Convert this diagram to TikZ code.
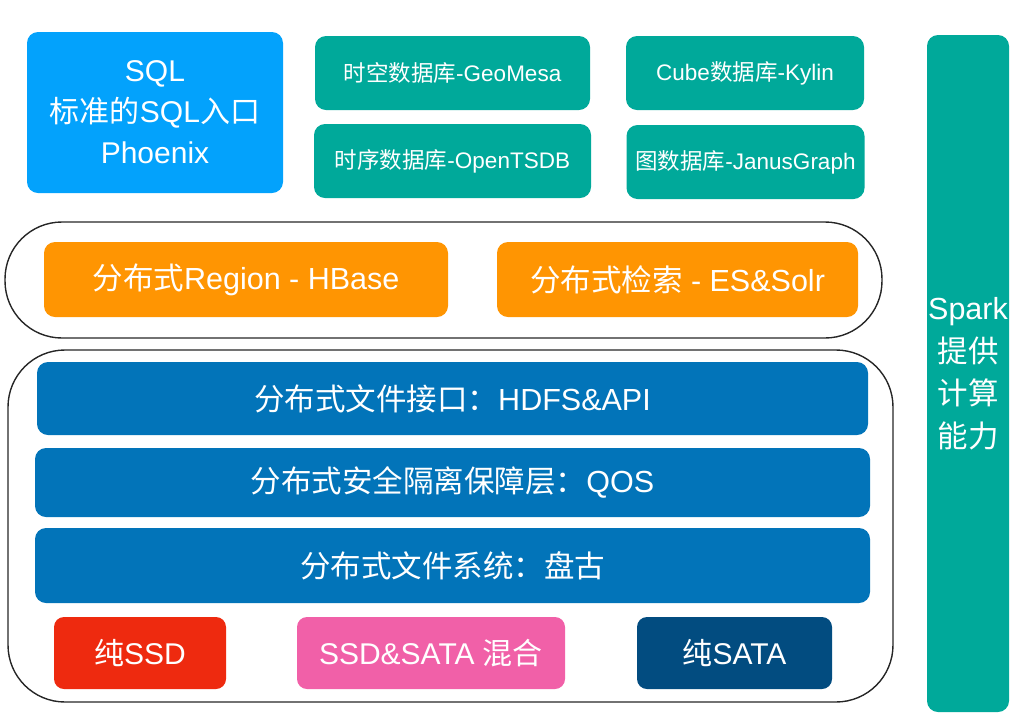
\documentclass[tikz,border=0pt]{standalone}
\usepackage{fontspec}
\setmainfont{Liberation Sans}
\newfontfamily\zhf{Noto Sans CJK SC}
\newcommand\zh[1]{{\zhf #1}}
\definecolor{sqlblue}{HTML}{03A2FC}
\definecolor{tealc}{HTML}{00A99A}
\definecolor{orangec}{HTML}{FF9502}
\definecolor{bluec}{HTML}{0274B9}
\definecolor{redc}{HTML}{EE2A0F}
\definecolor{pinkc}{HTML}{F160A8}
\definecolor{navyc}{HTML}{024C80}
\begin{document}
\begin{tikzpicture}[x=1pt,y=-1pt,
  box/.style={rounded corners=11pt, text=white, inner sep=0pt, align=center},
  frame/.style={draw=black!85, line width=1.4pt, inner sep=0pt},
  fA/.style={font=\fontsize{30}{41}\selectfont},
  fB/.style={font=\fontsize{22.5}{26}\selectfont},
  fC/.style={font=\fontsize{30.5}{34}\selectfont},
  fE/.style={font=\fontsize{30}{34}\selectfont},
  fD/.style={font=\fontsize{30.5}{42.5}\selectfont}]
\useasboundingbox (0,0) rectangle (1031,724);
% top row
\node[box, fill=sqlblue, minimum width=256pt, minimum height=161pt, fA] (sql) at (155,112.5)
  {SQL\\\zh{标准的}SQL\zh{入口}\\Phoenix};
\node[box, fill=tealc, minimum width=275pt, minimum height=74pt, fB] (geo) at (452.5,73) {\zh{时空数据库}-GeoMesa};
\node[box, fill=tealc, minimum width=277pt, minimum height=74pt, fB] (tsdb) at (452.5,161) {\zh{时序数据库}-OpenTSDB};
\node[box, fill=tealc, minimum width=238pt, minimum height=74pt, fB] (kylin) at (745,73) {Cube\zh{数据库}-Kylin};
\node[box, fill=tealc, minimum width=238pt, minimum height=74pt, fB] (janus) at (745.5,162) {\zh{图数据库}-JanusGraph};
% spark column
\node[box, fill=tealc, minimum width=82pt, minimum height=677pt, fD] (spark) at (968,373.5)
  {Spark\\\zh{提供}\\\zh{计算}\\\zh{能力}};
% middle layer
\node[frame, rounded corners=57pt, minimum width=877pt, minimum height=116pt] (mid) at (443.5,280) {};
\node[box, fill=orangec, minimum width=404pt, minimum height=75pt, fC] (hbase) at (246,279.5) {\zh{分布式}Region - HBase};
\node[box, fill=orangec, minimum width=361pt, minimum height=75pt, fC] (es) at (677.5,279.5) {\zh{分布式检索} - ES\&Solr};
% storage layer
\node[frame, rounded corners=57pt, minimum width=885pt, minimum height=352pt] (store) at (450.5,526) {};
\node[box, fill=bluec, minimum width=831pt, minimum height=73pt, fC] (hdfs) at (452.5,398.5) {\zh{分布式文件接口：}HDFS\&API};
\node[box, fill=bluec, minimum width=835pt, minimum height=69pt, fC] (qos) at (452.5,482.5) {\zh{分布式安全隔离保障层：}QOS};
\node[box, fill=bluec, minimum width=835pt, minimum height=75pt, fC] (fs) at (452.5,565.5) {\zh{分布式文件系统：盘古}};
\node[box, rounded corners=10pt, fill=redc, minimum width=172pt, minimum height=72pt, fE] (ssd) at (140,653) {\zh{纯}SSD};
\node[box, rounded corners=10pt, fill=pinkc, minimum width=268pt, minimum height=72pt, fE] (mix) at (431,653) {SSD\&SATA \zh{混合}};
\node[box, rounded corners=10pt, fill=navyc, minimum width=195pt, minimum height=72pt, fE] (sata) at (734.5,653) {\zh{纯}SATA};
\end{tikzpicture}
\end{document}
